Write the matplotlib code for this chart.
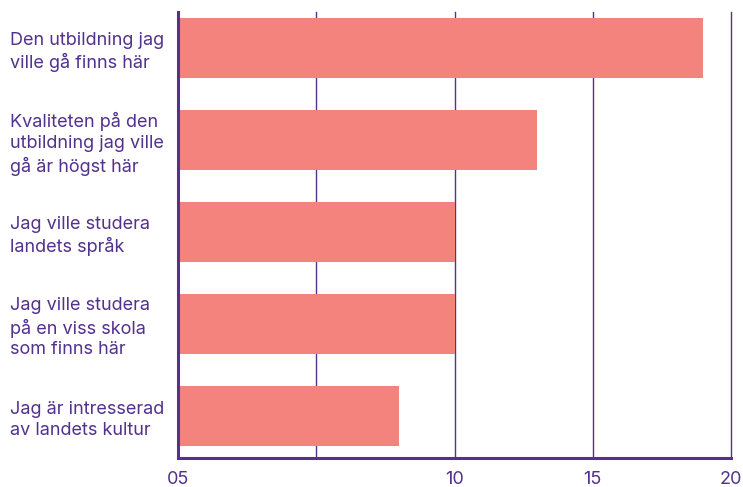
import matplotlib.pyplot as plt

reasons = [
    'Den utbildning jag\nville gå finns här',
    'Kvaliteten på den\nutbildning jag ville\ngå är högst här',
    'Jag ville studera\nlandets språk',
    'Jag ville studera\npå en viss skola\nsom finns här',
    'Jag är intresserad\nav landets kultur',
]
counts = [19, 13, 10, 10, 8]
xticks = [0, 5, 10, 15, 20]
xticklabels = ['05', '', '10', '15', '20']

purple = '#52318f'
bar_color = '#f4837d'

plt.rcParams['font.family'] = ['Inter', 'DejaVu Sans']

fig = plt.figure(figsize=(7.43, 4.87), dpi=100)
ax = fig.add_axes([0.2396, 0.0595, 0.7443, 0.9159])

pos = list(range(len(reasons)))
ax.barh(pos, counts, height=0.65, color=bar_color, zorder=3)

ax.set_xlim(0, 20)
ax.set_ylim(4.46, -0.39)
ax.set_xticks(xticks)
ax.set_xticklabels(xticklabels)
ax.set_yticks(pos)
ax.set_yticklabels(reasons, ha='left', linespacing=1.3)

ax.tick_params(axis='both', length=0, colors=purple, labelsize=13)
ax.tick_params(axis='y', pad=121)
ax.tick_params(axis='x', pad=9)

ax.grid(axis='x', color=purple, linewidth=1, zorder=0)
for gl in ax.get_xgridlines():
    gl.set_clip_on(False)
ax.grid(axis='y', visible=False)

for side in ['top', 'right']:
    ax.spines[side].set_visible(False)
for side in ['left', 'bottom']:
    ax.spines[side].set_color(purple)
    ax.spines[side].set_linewidth(2.2)
    ax.spines[side].set_zorder(4)

plt.savefig('out.png', dpi=100)
